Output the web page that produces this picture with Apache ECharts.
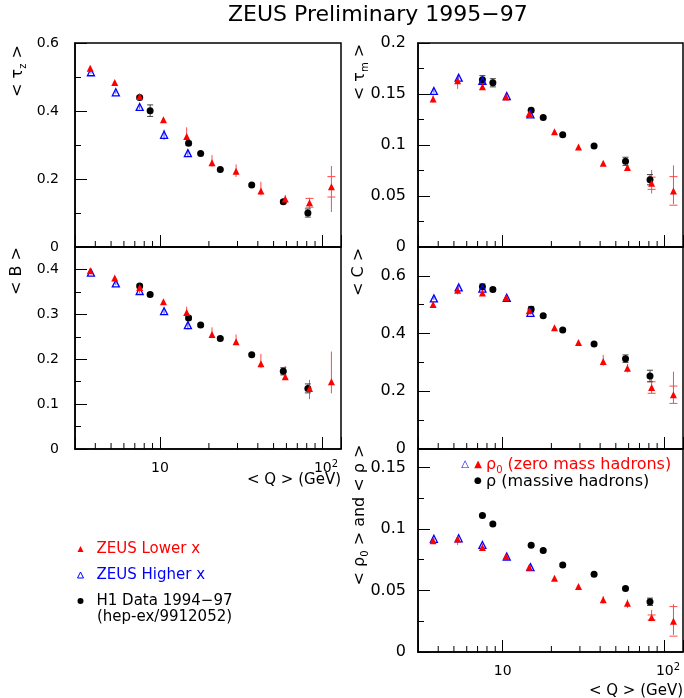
<!DOCTYPE html>
<html><head><meta charset="utf-8">
<script src="https://cdn.jsdelivr.net/npm/echarts@6/dist/echarts.min.js"></script>
<style>html,body{margin:0;padding:0;background:#fff}#c{width:684px;height:698px}</style>
</head><body><div id="c"></div>
<script>
// ---------- data ----------
const qLow  = [3.72, 5.27, 7.5, 10.5, 14.6, 20.9, 29.4, 41.8, 59.0, 83.2, 113.5];
const qHigh = [3.76, 5.35, 7.5, 10.6, 14.85];
const qH1   = [7.5, 8.7, 15.0, 17.8, 23.5, 36.7, 57.4, 81.3];
const minorQ = [4,5,6,7,8,9,20,30,40,50,60,70,80,90];

// <tau_z>
const tzLow     = [0.526, 0.484, 0.443, 0.374, 0.325, 0.248, 0.223, 0.165, 0.141, 0.130, 0.177];
const tzLowUp   = [0.004, 0.004, 0.008, 0.005, 0.027, 0.022, 0.020, 0.027, 0.012, 0.015, 0.061];
const tzLowDn   = [0.004, 0.004, 0.008, 0.005, 0.015, 0.012, 0.017, 0.013, 0.013, 0.017, 0.074];
const tzLowStat = [0, 0, 0, 0, 0, 0, 0, 0, 0, 0.013, 0.030];
const tzHigh    = [0.514, 0.455, 0.412, 0.330, 0.276];
const tzHighErr = [0.004, 0.004, 0.006, 0.015, 0.010];
const tzH1      = [0.440, 0.401, 0.305, 0.275, 0.228, 0.182, 0.133, 0.100];
const tzH1Err   = [0.004, 0.017, 0.006, 0.003, 0.003, 0.003, 0.005, 0.012];

// <B>
const bLow     = [0.397, 0.381, 0.360, 0.328, 0.304, 0.255, 0.239, 0.190, 0.161, 0.135, 0.150];
const bLowUp   = [0.003, 0.004, 0.005, 0.004, 0.013, 0.016, 0.016, 0.022, 0.024, 0.019, 0.067];
const bLowDn   = [0.003, 0.004, 0.005, 0.004, 0.013, 0.008, 0.007, 0.010, 0.007, 0.024, 0.026];
const bLowStat = [0, 0, 0, 0, 0, 0, 0, 0, 0, 0, 0];
const bHigh    = [0.393, 0.369, 0.352, 0.307, 0.276];
const bHighErr = [0.003, 0.004, 0.005, 0.006, 0.010];
const bH1      = [0.363, 0.344, 0.292, 0.276, 0.246, 0.210, 0.173, 0.135];
const bH1Err   = [0.004, 0.004, 0.004, 0.003, 0.003, 0.003, 0.008, 0.010];

// <tau_m>
const tmLow     = [0.145, 0.163, 0.157, 0.147, 0.131, 0.113, 0.098, 0.082, 0.078, 0.0625, 0.055];
const tmLowUp   = [0.0035, 0.005, 0.003, 0.002, 0.002, 0.002, 0.002, 0.002, 0.003, 0.013, 0.025];
const tmLowDn   = [0.0035, 0.008, 0.003, 0.002, 0.002, 0.002, 0.002, 0.002, 0.003, 0.010, 0.013];
const tmLowStat = [0, 0, 0, 0, 0, 0, 0, 0, 0, 0.006, 0.014];
const tmHigh    = [0.153, 0.166, 0.163, 0.148, 0.130];
const tmHighErr = [0.002, 0.002, 0.002, 0.002, 0.002];
const tmH1      = [0.164, 0.161, 0.134, 0.127, 0.110, 0.099, 0.084, 0.066];
const tmH1Err   = [0.004, 0.004, 0.002, 0.001, 0.001, 0.001, 0.004, 0.005];

// <C>
const cLow     = [0.501, 0.550, 0.541, 0.524, 0.479, 0.420, 0.369, 0.303, 0.280, 0.213, 0.188];
const cLowUp   = [0.006, 0.015, 0.006, 0.005, 0.005, 0.005, 0.005, 0.023, 0.015, 0.044, 0.080];
const cLowDn   = [0.006, 0.015, 0.006, 0.005, 0.005, 0.005, 0.005, 0.015, 0.015, 0.020, 0.029];
const cLowStat = [0, 0, 0, 0, 0, 0, 0, 0, 0, 0.020, 0.030];
const cHigh    = [0.522, 0.560, 0.556, 0.524, 0.472];
const cHighErr = [0.005, 0.005, 0.005, 0.005, 0.005];
const cH1      = [0.562, 0.553, 0.484, 0.462, 0.412, 0.364, 0.313, 0.253];
const cH1Err   = [0.010, 0.006, 0.010, 0.004, 0.004, 0.004, 0.013, 0.020];

// <rho_0> and <rho>
const rLow     = [0.0905, 0.0919, 0.0849, 0.0776, 0.0689, 0.0600, 0.0532, 0.0424, 0.0397, 0.0281, 0.0249];
const rLowUp   = [0.001, 0.001, 0.001, 0.001, 0.001, 0.001, 0.001, 0.003, 0.003, 0.006, 0.014];
const rLowDn   = [0.001, 0.005, 0.001, 0.001, 0.001, 0.001, 0.001, 0.003, 0.004, 0.003, 0.011];
const rLowStat = [0, 0, 0, 0, 0, 0, 0, 0, 0, 0.002, 0.012];
const rHigh    = [0.0920, 0.0924, 0.0870, 0.0776, 0.0690];
const rHighErr = [0.001, 0.001, 0.001, 0.001, 0.001];
const rH1      = [0.111, 0.104, 0.0868, 0.0824, 0.0708, 0.0632, 0.0516, 0.0408];
const rH1Err   = [0.001, 0.001, 0.001, 0.001, 0.001, 0.001, 0.001, 0.003];

// ---------- layout ----------
const FONT = 'DejaVu Sans';
const RED = '#ff0000', BLUE = '#0000ff', BLACK = '#000000';
const panels = [
  {g:{left:75, top:43, width:266, height:204}, ymax:0.6, major:0.2, minor:0.1, lab:14, lm:16, showX:false,
   low:tzLow, lowUp:tzLowUp, lowDn:tzLowDn, lowSt:tzLowStat, high:tzHigh, highE:tzHighErr, h1:tzH1, h1E:tzH1Err},
  {g:{left:75, top:247, width:266, height:202}, ymax:0.45, major:0.1, minor:0.05, lab:14, lm:16, showX:true,
   low:bLow, lowUp:bLowUp, lowDn:bLowDn, lowSt:bLowStat, high:bHigh, highE:bHighErr, h1:bH1, h1E:bH1Err},
  {g:{left:418, top:43, width:265, height:204}, ymax:0.2, major:0.05, minor:0.025, lab:16, lm:12, showX:false,
   low:tmLow, lowUp:tmLowUp, lowDn:tmLowDn, lowSt:tmLowStat, high:tmHigh, highE:tmHighErr, h1:tmH1, h1E:tmH1Err},
  {g:{left:418, top:247, width:265, height:202}, ymax:0.7, major:0.2, minor:0.1, lab:16, lm:12, showX:false,
   low:cLow, lowUp:cLowUp, lowDn:cLowDn, lowSt:cLowStat, high:cHigh, highE:cHighErr, h1:cH1, h1E:cH1Err},
  {g:{left:418, top:449, width:265, height:203}, ymax:0.165, major:0.05, minor:0.025, lab:16, lm:12, showX:true,
   low:rLow, lowUp:rLowUp, lowDn:rLowDn, lowSt:rLowStat, high:rHigh, highE:rHighErr, h1:rH1, h1E:rH1Err}
];

function xFmt(v) {
  const e = Math.log10(v);
  if (Math.abs(e - 1) < 1e-6) return '10';
  if (Math.abs(e - 2) < 1e-6) return '{p| }10{sup|2}';
  return '';
}
function yFmtFor(L) {
  return function (v) {
    const k = v / L;
    if (Math.abs(k - Math.round(k)) > 1e-6) return '';
    return String(+v.toFixed(4));
  };
}
function errRender(color, capW, endCaps) {
  return function (params, api) {
    const x = api.value(0), y = api.value(1), up = api.value(2), dn = api.value(3), st = api.value(4);
    const t = api.coord([x, y + up]), b = api.coord([x, y - dn]);
    const ch = [{type:'line', shape:{x1:t[0], y1:t[1], x2:b[0], y2:b[1]}, style:{stroke:color, lineWidth:1}}];
    const caps = [];
    if (st > 0) caps.push(y + st, y - st);
    if (endCaps) caps.push(y + up, y - dn);
    caps.forEach(function (cv) {
      const c = api.coord([x, cv]);
      ch.push({type:'line', shape:{x1:c[0]-capW, y1:c[1], x2:c[0]+capW, y2:c[1]}, style:{stroke:color, lineWidth:1}});
    });
    return {type:'group', children:ch};
  };
}
function minorTickRender(params, api) {
  const p = api.coord([api.value(0), api.value(1)]);
  return {type:'line', shape:{x1:p[0], y1:p[1], x2:p[0], y2:p[1]-6}, style:{stroke:'#000', lineWidth:1}};
}

const grid = [], xAxis = [], yAxis = [], series = [];
panels.forEach(function (p, i) {
  grid.push(Object.assign({show:true, borderColor:'#000', borderWidth:1.5, backgroundColor:'transparent',
    containLabel:false, outerBoundsMode:'none'}, p.g));
  xAxis.push({type:'log', logBase:10, gridIndex:i, min:3, max:130,
    axisLine:{show:true, lineStyle:{color:'#000', width:1.5}},
    axisTick:{show:true, inside:true, length:12, lineStyle:{color:'#000', width:1}},
    minorTick:{show:false}, splitLine:{show:false},
    axisLabel:{show:p.showX, formatter:xFmt, margin:10, color:'#000', fontFamily:FONT, fontSize:14, lineHeight:18,
      showMinLabel:true, showMaxLabel:true, hideOverlap:false,
      rich:{p:{width:7, fontSize:14}, sup:{fontSize:10, lineHeight:10, verticalAlign:'top', fontFamily:FONT, color:'#000'}}}
  });
  yAxis.push({type:'value', gridIndex:i, position:'left', min:0, max:p.ymax, interval:p.major,
    axisLine:{show:true, lineStyle:{color:'#000', width:1.5}},
    axisTick:{show:true, inside:true, length:12, lineStyle:{color:'#000', width:1}},
    splitLine:{show:false},
    axisLabel:{formatter:yFmtFor(p.major), color:'#000', fontFamily:FONT, fontSize:p.lab, margin:p.lm, hideOverlap:false}
  });
  yAxis.push({type:'value', gridIndex:i, position:'left', min:0, max:p.ymax, interval:p.minor,
    axisLine:{show:false}, axisLabel:{show:false}, splitLine:{show:false},
    axisTick:{show:true, inside:true, length:6, lineStyle:{color:'#000', width:1}}
  });
  const xi = i, yi = 2 * i;
  // minor log ticks on x axis
  series.push({type:'custom', xAxisIndex:xi, yAxisIndex:yi, silent:true, clip:false, z:1,
    data:minorQ.map(function (q) { return [q, 0]; }), renderItem:minorTickRender, encode:{x:0, y:1}});
  // error bars
  series.push({type:'custom', xAxisIndex:xi, yAxisIndex:yi, silent:true, z:2, encode:{x:0, y:1},
    data:qLow.map(function (q, k) { return [q, p.low[k], p.lowUp[k], p.lowDn[k], p.lowSt[k]]; }),
    renderItem:errRender('#ff4a4a', 4, false)});
  series.push({type:'custom', xAxisIndex:xi, yAxisIndex:yi, silent:true, z:2, encode:{x:0, y:1},
    data:qHigh.map(function (q, k) { return [q, p.high[k], p.highE[k], p.highE[k], 0]; }),
    renderItem:errRender('#5a5aff', 3, false)});
  series.push({type:'custom', xAxisIndex:xi, yAxisIndex:yi, silent:true, z:2, encode:{x:0, y:1},
    data:qH1.map(function (q, k) { return [q, p.h1[k], p.h1E[k], p.h1E[k], 0]; }),
    renderItem:errRender('#444444', 3, true)});
  // markers
  series.push({type:'scatter', name:'H1 Data 1994\u221297', xAxisIndex:xi, yAxisIndex:yi, z:3,
    symbol:'circle', symbolSize:7, itemStyle:{color:BLACK, opacity:1},
    data:qH1.map(function (q, k) { return [q, p.h1[k]]; })});
  series.push({type:'scatter', name:'ZEUS Higher x', xAxisIndex:xi, yAxisIndex:yi, z:4,
    symbol:'triangle', symbolSize:7, itemStyle:{color:'rgba(0,0,0,0)', borderColor:BLUE, borderWidth:1.3, opacity:1},
    data:qHigh.map(function (q, k) { return [q, p.high[k]]; })});
  series.push({type:'scatter', name:'ZEUS Lower x', xAxisIndex:xi, yAxisIndex:yi, z:5,
    symbol:'triangle', symbolSize:7, itemStyle:{color:RED, opacity:1},
    data:qLow.map(function (q, k) { return [q, p.low[k]]; })});
});

const subRich = {s:{fontSize:10, lineHeight:10, verticalAlign:'bottom', fontFamily:FONT, fill:'#000'}};
function yName(x, y, text) {
  return {type:'text', x:x, y:y, rotation:Math.PI/2, silent:true,
    style:{text:text, fontFamily:FONT, fontSize:16, lineHeight:20, fill:'#000', align:'center', verticalAlign:'middle', rich:subRich}};
}
function plainText(x, y, text, color, size, align) {
  return {type:'text', x:x, y:y, silent:true,
    style:{text:text, fontFamily:FONT, fontSize:size, fill:color, align:align || 'left', verticalAlign:'middle'}};
}

const graphic = [
  yName(18, 71, '< \u03c4{s|z} >'),
  yName(17, 271, '< B >'),
  yName(360, 72, '< \u03c4{s|m} >'),
  yName(359, 272, '< C >'),
  yName(360, 515, '< \u03c1{s|0} > and < \u03c1 >'),
  plainText(341, 480, '< Q > (GeV)', '#000', 15, 'right'),
  plainText(683, 691, '< Q > (GeV)', '#000', 15, 'right'),
  plainText(97, 617, '(hep-ex/9912052)', '#000', 15, 'left'),
  plainText(465, 464, '\u25b3', BLUE, 10, 'center'),
  plainText(478, 464, '\u25b2', RED, 10, 'center'),
  plainText(478, 481, '\u25cf', BLACK, 9, 'center'),
  {type:'text', x:486, y:465, silent:true,
    style:{text:'\u03c1{r|0} (zero mass hadrons)', fontFamily:FONT, fontSize:16, lineHeight:20, fill:RED, align:'left', verticalAlign:'middle',
      rich:{r:{fontSize:10, lineHeight:10, verticalAlign:'bottom', fontFamily:FONT, fill:RED}}}},
  plainText(486, 482, '\u03c1 (massive hadrons)', BLACK, 16, 'left')
];

const option = {
  animation:false,
  backgroundColor:'#fff',
  textStyle:{fontFamily:FONT},
  title:{text:'ZEUS Preliminary 1995\u221297', left:228, top:4, padding:0,
    textStyle:{fontFamily:FONT, fontSize:22, fontWeight:'normal', color:'#000'}},
  legend:{orient:'vertical', left:72, top:536, itemWidth:6, itemHeight:6, itemGap:10, selectedMode:false,
    textStyle:{fontFamily:FONT, fontSize:15, lineHeight:16, padding:[0,0,0,8]},
    data:[
      {name:'ZEUS Lower x', textStyle:{color:RED}},
      {name:'ZEUS Higher x', textStyle:{color:BLUE}, itemStyle:{borderWidth:1, borderColor:BLUE, color:'rgba(0,0,0,0)'}},
      {name:'H1 Data 1994\u221297', textStyle:{color:BLACK}}
    ]},
  grid:grid, xAxis:xAxis, yAxis:yAxis, series:series, graphic:graphic
};
const chart = echarts.init(document.getElementById('c'), null, {renderer:'canvas'});
chart.setOption(option);
</script></body></html>
